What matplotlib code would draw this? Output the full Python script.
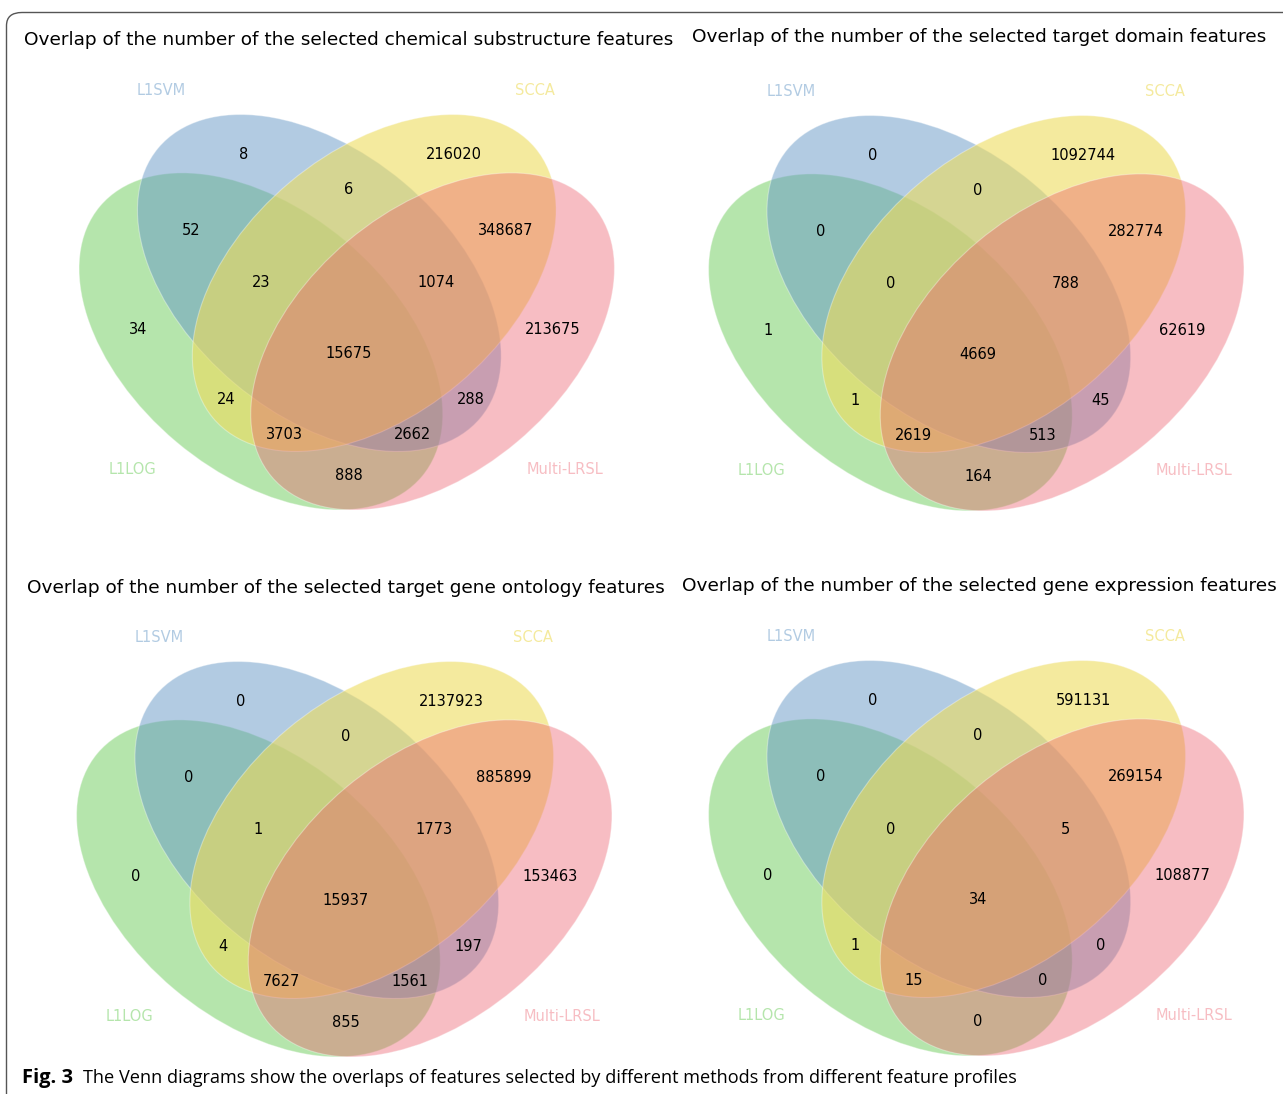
import matplotlib
matplotlib.use("Agg")
import matplotlib.pyplot as plt
from matplotlib.patches import Ellipse, FancyBboxPatch

# methods, in the order of the region keys (A B C D)
methods = ['L1LOG', 'L1SVM', 'SCCA', 'Multi-LRSL']

region_keys = ['1000', '0100', '0010', '0001', '1100', '1010', '1001', '0110',
               '0101', '0011', '1110', '1101', '1011', '0111', '1111']

chem_counts = [34, 8, 216020, 213675, 52, 24, 888, 6,
               288, 348687, 23, 2662, 3703, 1074, 15675]
domain_counts = [1, 0, 1092744, 62619, 0, 1, 164, 0,
                 45, 282774, 0, 513, 2619, 788, 4669]
go_counts = [0, 0, 2137923, 153463, 0, 4, 855, 0,
             197, 885899, 1, 1561, 7627, 1773, 15937]
expr_counts = [0, 0, 591131, 108877, 0, 1, 0, 0,
               0, 269154, 0, 0, 15, 5, 34]

titles = ['Overlap of the number of the selected chemical substructure features',
          'Overlap of the number of the selected target domain features',
          'Overlap of the number of the selected target gene ontology features',
          'Overlap of the number of the selected gene expression features']

caption_bold = 'Fig. 3'
caption_text = 'The Venn diagrams show the overlaps of features selected by different methods from different feature profiles'

colors = [(109/255, 205/255, 91/255, 0.5),
          (103/255, 153/255, 199/255, 0.5),
          (238/255, 220/255, 93/255, 0.6),
          (235/255, 92/255, 105/255, 0.4)]

# ellipse layout (x, y, w, h, angle) for the four sets
ellipses = [(0.350, 0.400, 0.72, 0.45, 140.0),
            (0.450, 0.500, 0.72, 0.45, 140.0),
            (0.544, 0.500, 0.72, 0.45, 40.0),
            (0.644, 0.400, 0.72, 0.45, 40.0)]

text_pos = {'0001': (0.85, 0.42), '0010': (0.68, 0.72), '0011': (0.77, 0.59),
            '0100': (0.32, 0.72), '0101': (0.71, 0.30), '0110': (0.50, 0.66),
            '0111': (0.65, 0.50), '1000': (0.14, 0.42), '1001': (0.50, 0.17),
            '1010': (0.29, 0.30), '1011': (0.39, 0.24), '1100': (0.23, 0.59),
            '1101': (0.61, 0.24), '1110': (0.35, 0.50), '1111': (0.50, 0.38)}

name_pos = [(0.13, 0.18), (0.18, 0.83), (0.82, 0.83), (0.87, 0.18)]

W, H = 1283, 1094
fig = plt.figure(figsize=(W / 100, H / 100), dpi=100)

# rounded frame around the figure panel
frame = FancyBboxPatch((6.5 / W, -0.05), 1.2, (H - 12.5) / H + 0.05,
                       boxstyle='round,pad=0,rounding_size=0.012',
                       transform=fig.transFigure, fill=False,
                       edgecolor='#555555', linewidth=1.0, figure=fig)
fig.patches.append(frame)


def venn4(origin, counts, title, title_xy):
    # origin: pixel position of data (0, 0); one data unit = 584 px
    x0, y0 = origin
    s = 584.0
    ax = fig.add_axes([x0 / W, (H - y0) / H, s / W, s / H])
    ax.set_xlim(0, 1)
    ax.set_ylim(0, 1)
    ax.set_axis_off()
    for (x, y, w, h, a), c in zip(ellipses, colors):
        ax.add_patch(Ellipse((x, y), w, h, angle=a, facecolor=c,
                             edgecolor=(1, 1, 1, 0.35), linewidth=0.8))
    labels = dict(zip(region_keys, counts))
    for k, (x, y) in text_pos.items():
        ax.text(x, y, str(labels[k]), ha='center', va='center', fontsize=10.5,
                color='black')
    for (x, y), n, c in zip(name_pos, methods, colors):
        ax.text(x, y, n, ha='center', va='center', fontsize=10.5, color=c)
    fig.text(title_xy[0] / W, 1 - title_xy[1] / H, title, ha='center',
             va='center', fontsize=13.3)


venn4((56.5, 575), chem_counts, titles[0], (349, 40))
venn4((686, 576), domain_counts, titles[1], (979, 37))
venn4((54, 1122), go_counts, titles[2], (346, 588))
venn4((686, 1121), expr_counts, titles[3], (979, 586))

# caption under the panels
fig.text(22 / W, 1 - 1078 / H, caption_bold, fontsize=14.5,
         fontweight='bold', family='Open Sans', va='center')
cap = fig.text(83 / W, 1 - 1078 / H, caption_text, fontsize=12,
               family='Open Sans', va='center')
fig.canvas.draw()
w = cap.get_window_extent().width
cap.set_fontsize(12 * (1013 - 83) / w)

fig.savefig('out.png', dpi=100)
